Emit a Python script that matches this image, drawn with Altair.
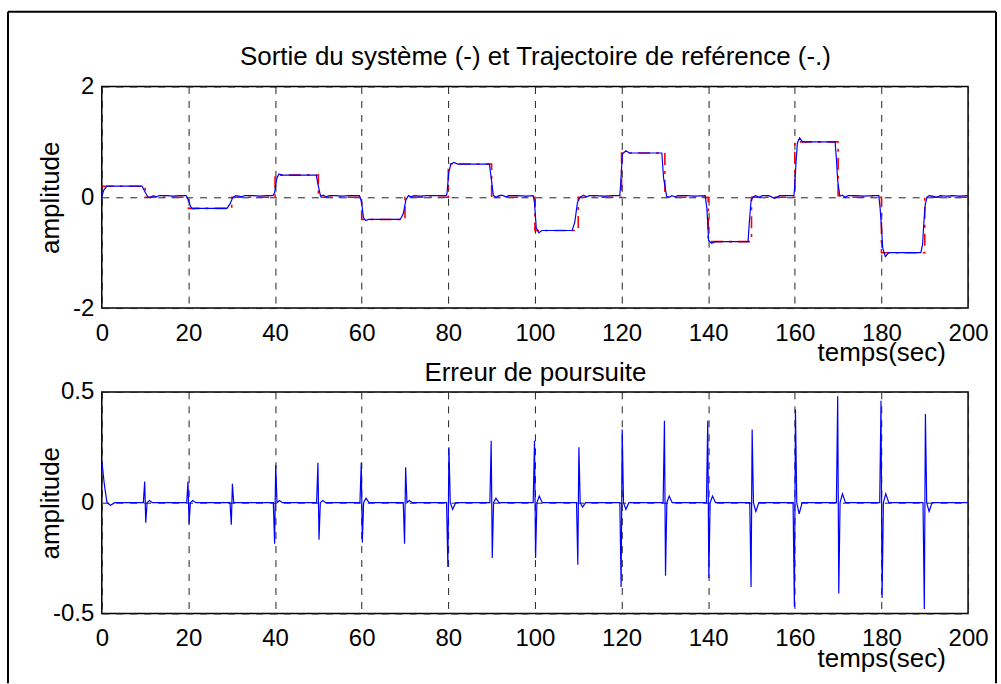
import altair as alt
import pandas as pd

# ---------------- data ----------------
# reference trajectory (step levels, one every 10 s)
ref_t = [0, 10, 20, 30, 40, 50, 60, 70, 80, 90, 100, 110, 120, 130, 140, 150, 160, 170, 180, 190, 200]
ref_y = [0.2, 0, -0.2, 0, 0.4, 0, -0.4, 0, 0.6, 0, -0.6, 0, 0.8, 0, -0.8, 0, 1.0, 0, -1.0, 0, 0]

# system output (blue), read point by point
out_t = [0, 0.4, 1.2, 9.3,
         9.9, 10.6, 11.2, 11.9, 12.6, 13.3, 15.0, 16.5, 18.0, 19.5,
         20.0, 20.5, 21.0, 21.6, 28.9,
         29.6, 30.2, 30.9, 31.6, 32.2, 33.0, 35.0, 36.5, 38.0, 39.5,
         39.9, 40.4, 40.9, 41.6, 49.5,
         50.0, 50.5, 51.1, 51.8, 52.5, 54.0, 55.5, 57.0, 59.5,
         60.0, 60.4, 60.9, 61.6, 68.9,
         69.6, 70.2, 70.8, 71.4, 72.1, 73.5, 75.0, 77.0, 79.5,
         79.7, 80.1, 80.6, 81.3, 82.2, 89.5,
         89.9, 90.4, 91.0, 91.7, 92.4, 93.3, 94.0, 96.0, 98.0, 99.6,
         99.9, 100.3, 100.9, 101.6, 108.6,
         109.2, 109.8, 110.4, 111.2, 111.9, 112.6, 114.0, 116.0, 118.0, 119.6,
         119.8, 120.2, 121.0, 121.8, 129.3,
         129.7, 130.4, 131.0, 131.6, 132.3, 133.0, 135.0, 137.0, 139.3,
         139.7, 140.1, 140.8, 141.6, 149.2,
         149.5, 149.9, 150.4, 151.0, 151.8, 152.5, 154.0, 155.3, 156.5, 158.0, 159.8,
         159.9, 160.3, 160.6, 161.1, 161.8, 169.3,
         169.6, 169.9, 170.4, 171.0, 171.6, 172.3, 174.0, 176.0, 178.0, 179.4,
         179.7, 180.0, 180.3, 180.9, 181.7, 189.1,
         189.5, 189.8, 190.1, 190.5, 191.0, 191.8, 192.8, 193.6, 195.0, 196.5, 198.0, 200.0]
out_y = [0, 0.12, 0.2, 0.2,
         0.11, 0.01, 0.0, 0.03, 0.01, 0.03, 0.03, 0.02, 0.03, 0.03,
         -0.05, -0.17, -0.21, -0.2, -0.2,
         -0.12, -0.01, 0.03, 0.02, 0.01, 0.03, 0.03, 0.02, 0.03, 0.03,
         0.08, 0.34, 0.42, 0.4, 0.4,
         0.2, 0.02, 0.04, 0.01, 0.03, 0.03, 0.02, 0.03, 0.03,
         -0.1, -0.36, -0.42, -0.4, -0.4,
         -0.3, -0.05, 0.03, 0.01, 0.03, 0.02, 0.03, 0.03, 0.03,
         0.07, 0.45, 0.6, 0.63, 0.6, 0.6,
         0.35, 0.03, 0.0, 0.03, 0.04, 0.01, 0.03, 0.03, 0.02, 0.03,
         -0.1, -0.55, -0.64, -0.6, -0.6,
         -0.45, -0.1, 0.0, 0.04, 0.01, 0.03, 0.03, 0.02, 0.03, 0.03,
         0.25, 0.78, 0.84, 0.8, 0.8,
         0.35, 0.02, 0.0, 0.03, 0.01, 0.03, 0.03, 0.02, 0.03,
         -0.2, -0.78, -0.83, -0.8, -0.8,
         -0.45, -0.06, 0.01, 0.03, 0.0, 0.03, 0.03, -0.02, 0.03, 0.03, 0.03,
         0.12, 0.65, 0.98, 1.07, 1.0, 1.0,
         0.7, 0.3, 0.02, 0.04, 0.0, 0.03, 0.03, 0.02, 0.03, 0.03,
         -0.2, -0.55, -0.92, -1.07, -1.0, -1.0,
         -0.85, -0.45, -0.14, 0.0, 0.03, 0.02, 0.0, 0.03, 0.02, 0.03, 0.02, 0.03]

# tracking error: initial transient, then one spike per set-point change
err0_t = [0, 0.6, 1.2, 2.0, 3.0]
err0_y = [0.19, 0.08, 0.0, -0.012, 0.0]
spike_t = [10, 20, 30, 40, 50, 60, 70, 80, 90, 100, 110, 120, 130, 140, 150, 160, 170, 180, 190]
spike_first = [0.095, 0.095, -0.1, -0.185, 0.18, 0.18, -0.185, -0.29, 0.28, 0.28, -0.28,
               -0.38, 0.37, 0.37, -0.38, -0.47, 0.48, 0.46, -0.48]
spike_second = [-0.09, -0.095, 0.085, 0.17, -0.167, -0.18, 0.16, 0.25, -0.25, -0.25, 0.25,
                0.33, -0.33, -0.34, 0.33, 0.42, -0.41, -0.43, 0.4]
spike_bump = [0.01, 0.01, 0.0, 0.01, 0.01, 0.02, 0.01, -0.03, 0.02, 0.03, -0.02,
              -0.03, 0.03, 0.03, -0.04, -0.05, 0.04, 0.04, -0.04]

x_ticks = [0, 20, 40, 60, 80, 100, 120, 140, 160, 180, 200]

TITLE_TOP = "Sortie du système (-) et Trajectoire de reférence (-.)"
TITLE_BOTTOM = "Erreur de poursuite"

# ---------------- tables ----------------
ref_df = pd.DataFrame({"t": ref_t, "y": ref_y})
out_df = pd.DataFrame({"t": out_t, "y": out_y})

et, ey = list(err0_t), list(err0_y)
for T, a, b, c in zip(spike_t, spike_first, spike_second, spike_bump):
    et += [T - 0.4, T - 0.1, T + 0.15, T + 0.45, T + 1.0, T + 1.7]
    ey += [0.0, a, b, 0.0, c, 0.0]
et.append(200)
ey.append(0.0)
err_df = pd.DataFrame({"t": et, "y": ey})

FONT = "Liberation Sans"
LFS = 24     # tick labels
TFS = 26     # titles
W, H = 868, 222


def xaxis():
    return alt.Axis(values=x_ticks, title="temps(sec)", titleX=781, titleY=45,
                    titleAlign="center", titleBaseline="middle", titleAngle=0,
                    grid=True, ticks=False, tickSize=0, domain=False,
                    labelPadding=13, labelFlush=False,
                    labelExpr="'' + datum.value")


def top_title_axis(text, y):
    return alt.Axis(orient="top", title=text, titleX=W / 2, titleY=y,
                    titleAlign="center", titleBaseline="alphabetic", titleAngle=0,
                    labels=False, ticks=False, tickSize=0, domain=False, grid=False)


def yaxis(vals):
    return alt.Axis(values=vals, title="amplitude", titleX=-51, titleY=H / 2,
                    titleAngle=270, titleAlign="center", titleBaseline="middle",
                    grid=True, ticks=False, tickSize=0, domain=False,
                    labelPadding=8, labelFlush=False,
                    labelExpr="'' + datum.value")


xs = alt.Scale(domain=[0, 200], nice=False, zero=False)

red = alt.Chart(ref_df).mark_line(color="#ff0000", strokeWidth=1.6, strokeDash=[12, 6, 3, 6],
                                  interpolate="step-after", clip=True).encode(
    x=alt.X("t:Q", scale=xs, axis=top_title_axis(TITLE_TOP, -22)),
    y=alt.Y("y:Q", scale=alt.Scale(domain=[-2, 2], nice=False)),
)
blue = alt.Chart(out_df).mark_line(color="#0000ff", strokeWidth=1.2, clip=True).encode(
    x=alt.X("t:Q", scale=xs, axis=xaxis()),
    y=alt.Y("y:Q", axis=yaxis([-2, 0, 2])),
)

one = pd.DataFrame({"a": [0]})
frame_left = alt.Chart(one).mark_rule(color="black", strokeWidth=2).encode(
    x=alt.value(-94), y=alt.value(-75), y2=alt.value(598))
frame_top = alt.Chart(one).mark_rule(color="black", strokeWidth=2).encode(
    x=alt.value(-94), x2=alt.value(896), y=alt.value(-75))
frame_right = alt.Chart(one).mark_rule(color="black", strokeWidth=2).encode(
    x=alt.value(896), y=alt.value(-75), y2=alt.value(598))

top = alt.layer(red, blue, frame_left, frame_top, frame_right).resolve_axis(
    x="independent").properties(width=W, height=H)

err_line = alt.Chart(err_df).mark_line(color="#0000ff", strokeWidth=1.2, clip=True).encode(
    x=alt.X("t:Q", scale=xs, axis=xaxis()),
    y=alt.Y("y:Q", scale=alt.Scale(domain=[-0.5, 0.5], nice=False), axis=yaxis([-0.5, 0, 0.5])),
)
err_title = alt.Chart(err_df).mark_line(opacity=0).encode(
    x=alt.X("t:Q", scale=xs, axis=top_title_axis(TITLE_BOTTOM, -11)),
    y=alt.Y("y:Q"),
)
bottom = alt.layer(err_line, err_title).resolve_axis(x="independent").properties(width=W, height=H)

chart = alt.vconcat(top, bottom, spacing=84, bounds="flush").properties(
    padding={"left": 6, "top": 9, "right": 3, "bottom": 0},
    autosize=alt.AutoSizeParams(type="pad"),
    background="white",
).configure_view(
    stroke="black", strokeWidth=1.5
).configure_axis(
    labelFont=FONT, labelFontSize=LFS, labelColor="black",
    titleFont=FONT, titleFontSize=TFS, titleColor="black", titleFontWeight="normal",
    gridColor="#222222", gridDash=[7, 7], gridWidth=1, gridOpacity=1,
)

chart.save("out.html", embed_options={"renderer": "svg", "actions": False})
